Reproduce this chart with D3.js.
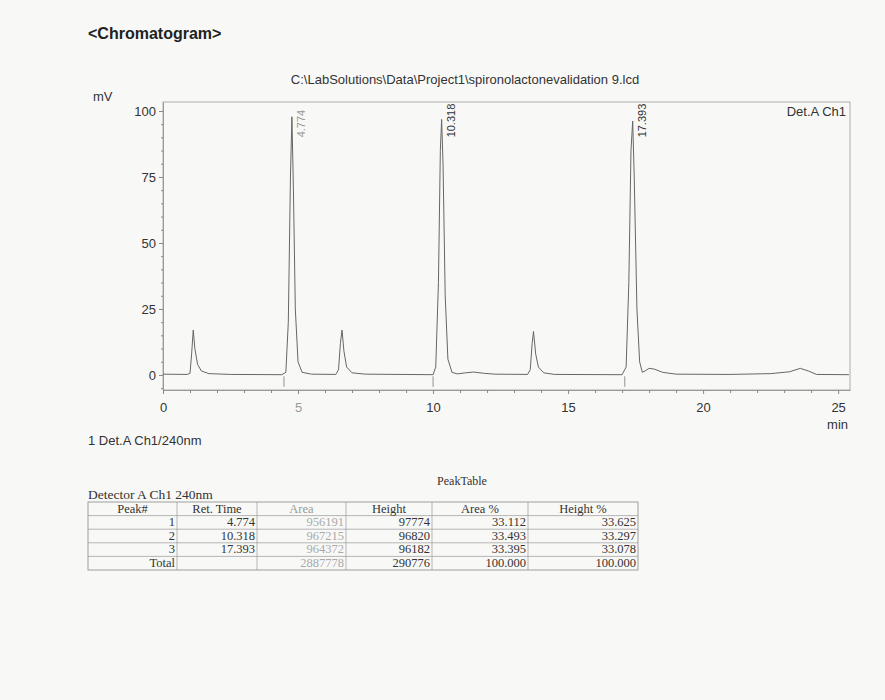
<!DOCTYPE html>
<html>
<head>
<meta charset="utf-8">
<script src="https://cdn.jsdelivr.net/npm/d3@7"></script>
<style>
  body { margin: 0; background: #f8f9f7; }
  svg { display: block; }
</style>
</head>
<body>
<div id="chart"></div>
<script>
// Trace of Det.A Ch1 (time in min, signal in mV)
const traceTime = [0, 0.9, 1.0, 1.06, 1.12, 1.18, 1.28, 1.42, 1.7, 2.5, 4.4, 4.55, 4.64, 4.72, 4.774, 4.83, 4.9, 5.0, 5.15, 5.5,
  6.4, 6.5, 6.57, 6.63, 6.7, 6.8, 7.0, 7.5, 10.0, 10.1, 10.2, 10.27, 10.318, 10.37, 10.45, 10.55, 10.7, 10.9, 11.2, 11.5,
  11.9, 12.3, 13.5, 13.6, 13.67, 13.72, 13.8, 13.9, 14.1, 14.5, 17.0, 17.15, 17.25, 17.33, 17.393, 17.45, 17.55, 17.65, 17.75, 17.85,
  18.0, 18.2, 18.5, 19.0, 21.0, 22.5, 23.2, 23.6, 23.9, 24.2, 25.4];
const traceMv = [0.3, 0.2, 0.6, 8, 17, 10, 4, 1.5, 0.5, 0.2, 0.1, 1, 20, 75, 97.8, 70, 25, 5, 1, 0.3,
  0.2, 2, 12, 17, 9, 3, 0.8, 0.3, 0.1, 3, 35, 85, 96.8, 80, 30, 6, 1, 0.4, 0.8, 1.1,
  0.6, 0.3, 0.2, 2, 12, 16.5, 8, 3, 0.8, 0.2, 0.1, 3, 35, 85, 96.2, 75, 25, 5, 1, 1.5,
  2.5, 2.2, 1, 0.3, 0.2, 0.5, 1.2, 2.5, 1.5, 0.2, 0.1];

// Integration start marks below the baseline
const markTimes = [4.48, 10.0, 17.1];

// Peak table
const peakNo = ["1", "2", "3"];
const retTimes = [4.774, 10.318, 17.393];
const areas = [956191, 967215, 964372];
const heights = [97774, 96820, 96182];
const areaPct = [33.112, 33.493, 33.395];
const heightPct = [33.625, 33.297, 33.078];
const totals = ["Total", "", "2887778", "290776", "100.000", "100.000"];
const tableHeaders = ["Peak#", "Ret. Time", "Area", "Height", "Area %", "Height %"];

const yTicks = [0, 25, 50, 75, 100];
const xTicks = [0, 5, 10, 15, 20, 25];

const width = 885, height = 700;
const plot = { left: 163, right: 850, top: 102, bottom: 390 };

const svg = d3.select("#chart").append("svg")
    .attr("width", width)
    .attr("height", height)
    .style("font-family", "'Liberation Sans', Arial, sans-serif");

const x = d3.scaleLinear().domain([0, 25.44]).range([plot.left, plot.right]);
const y = d3.scaleLinear().domain([-5.7, 103.4]).range([plot.bottom, plot.top]);

// Headings
svg.append("text").attr("x", 88).attr("y", 39)
    .attr("font-size", 16).attr("font-weight", "bold").attr("fill", "#222")
    .text("<Chromatogram>");
svg.append("text").attr("x", 465).attr("y", 84).attr("text-anchor", "middle")
    .attr("font-size", 13).attr("fill", "#333")
    .text("C:\\LabSolutions\\Data\\Project1\\spironolactonevalidation 9.lcd");
svg.append("text").attr("x", 93).attr("y", 101)
    .attr("font-size", 13).attr("fill", "#333").text("mV");

// Frame
svg.append("rect")
    .attr("x", plot.left).attr("y", plot.top)
    .attr("width", plot.right - plot.left).attr("height", plot.bottom - plot.top)
    .attr("fill", "none").attr("stroke", "#9a9a9a").attr("stroke-width", 0.8);

// Axes
const yAxis = svg.append("g").attr("transform", `translate(${plot.left},0)`)
    .call(d3.axisLeft(y).tickValues(yTicks).tickSize(4).tickSizeOuter(0));
svg.append("g").attr("transform", `translate(${plot.left},0)`)
    .call(d3.axisLeft(y).tickValues(d3.range(-5, 105, 5).filter(v => v % 25 !== 0))
        .tickSize(2).tickSizeOuter(0).tickFormat(""))
    .select(".domain").remove();

const xAxis = svg.append("g").attr("transform", `translate(0,${plot.bottom})`)
    .call(d3.axisBottom(x).tickValues(xTicks).tickSize(4).tickSizeOuter(0).tickPadding(9));
svg.append("g").attr("transform", `translate(0,${plot.bottom})`)
    .call(d3.axisBottom(x).tickValues(d3.range(1, 25, 1).filter(v => v % 5 !== 0))
        .tickSize(3).tickSizeOuter(0).tickFormat(""))
    .select(".domain").remove();

svg.selectAll(".domain").attr("stroke", "#9a9a9a");
svg.selectAll(".tick line").attr("stroke", "#888");
[yAxis, xAxis].forEach(a => a.selectAll("text")
    .attr("font-size", 13).attr("fill", "#333")
    .style("font-family", "'Liberation Sans', Arial, sans-serif"));
xAxis.selectAll("text").filter(d => d === 5).attr("fill", "#999");

svg.append("text").attr("x", 848).attr("y", 429).attr("text-anchor", "end")
    .attr("font-size", 13).attr("fill", "#333").text("min");
svg.append("text").attr("x", 846).attr("y", 116).attr("text-anchor", "end")
    .attr("font-size", 13).attr("fill", "#333").text("Det.A Ch1");
svg.append("text").attr("x", 88).attr("y", 445)
    .attr("font-size", 13).attr("fill", "#333").text("1 Det.A Ch1/240nm");

// Trace
const trace = traceTime.map((t, i) => ({ t, v: traceMv[i] }));
const line = d3.line().x(d => x(d.t)).y(d => y(d.v));
svg.append("path").datum(trace)
    .attr("d", line)
    .attr("fill", "none").attr("stroke", "#666").attr("stroke-width", 1);

svg.selectAll(".mark").data(markTimes).enter().append("line")
    .attr("x1", d => x(d)).attr("x2", d => x(d))
    .attr("y1", y(-0.5)).attr("y2", y(-4.5))
    .attr("stroke", "#777").attr("stroke-width", 0.8);

// Peak labels
svg.selectAll(".plabel").data(retTimes).enter().append("text")
    .attr("transform", d => `translate(${x(d) + 13},${y(90)}) rotate(-90)`)
    .attr("font-size", 11)
    .attr("fill", (d, i) => i === 0 ? "#999" : "#333")
    .text(d => d3.format(".3f")(d));

// Peak table
svg.append("text").attr("x", 462).attr("y", 485).attr("text-anchor", "middle")
    .style("font-family", "'Liberation Serif', 'Times New Roman', serif")
    .attr("font-size", 12).attr("fill", "#333").text("PeakTable");
svg.append("text").attr("x", 88).attr("y", 499)
    .style("font-family", "'Liberation Serif', 'Times New Roman', serif")
    .attr("font-size", 13.5).attr("fill", "#333").text("Detector A Ch1 240nm");

const colEdges = [88, 177, 257, 346, 432, 528, 638];
const rowH = 13.6, tableTop = 502;
const rows = peakNo.map((p, i) => [p, d3.format(".3f")(retTimes[i]), String(areas[i]), String(heights[i]),
  d3.format(".3f")(areaPct[i]), d3.format(".3f")(heightPct[i])]);
rows.push(totals);

const table = svg.append("g")
    .style("font-family", "'Liberation Serif', 'Times New Roman', serif")
    .attr("font-size", 12.5);

table.append("rect")
    .attr("x", colEdges[0]).attr("y", tableTop)
    .attr("width", colEdges[6] - colEdges[0]).attr("height", rowH * 5)
    .attr("fill", "none").attr("stroke", "#888").attr("stroke-width", 0.8);
d3.range(1, 5).forEach(r => table.append("line")
    .attr("x1", colEdges[0]).attr("x2", colEdges[6])
    .attr("y1", tableTop + r * rowH).attr("y2", tableTop + r * rowH)
    .attr("stroke", "#999").attr("stroke-width", 0.7));
colEdges.slice(1, 6).forEach(cx => table.append("line")
    .attr("x1", cx).attr("x2", cx)
    .attr("y1", tableTop).attr("y2", tableTop + rowH * 5)
    .attr("stroke", "#999").attr("stroke-width", 0.7));

tableHeaders.forEach((h, c) => table.append("text")
    .attr("x", (colEdges[c] + colEdges[c + 1]) / 2).attr("y", tableTop + rowH - 3)
    .attr("text-anchor", "middle")
    .attr("fill", c === 2 ? "#999" : "#333").text(h));

rows.forEach((row, r) => row.forEach((cell, c) => table.append("text")
    .attr("x", colEdges[c + 1] - 2).attr("y", tableTop + (r + 2) * rowH - 3)
    .attr("text-anchor", "end")
    .attr("fill", c === 2 ? "#aaa" : "#333").text(cell)));
</script>
</body>
</html>
